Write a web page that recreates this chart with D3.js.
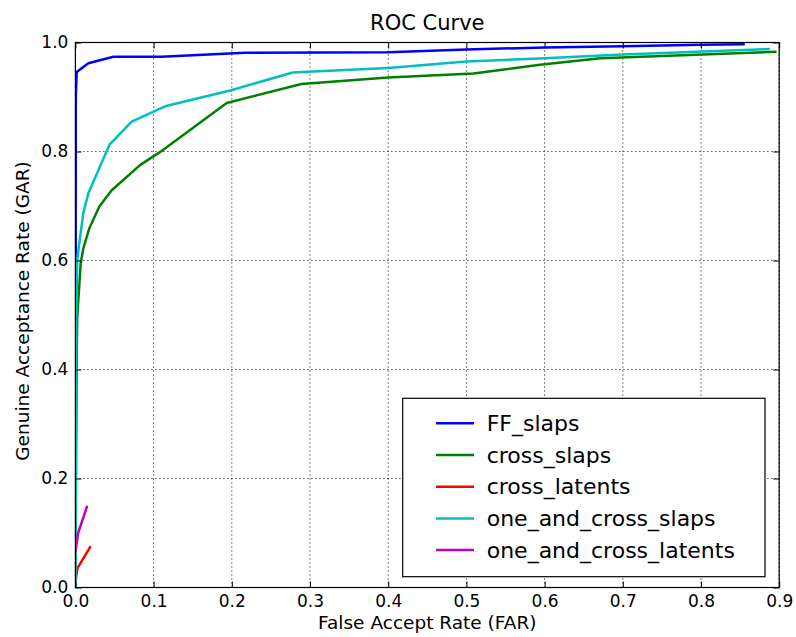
<!DOCTYPE html>
<html>
<head>
<meta charset="utf-8">
<script src="https://cdn.jsdelivr.net/npm/d3@7"></script>
<style>
  body { margin: 0; background: #fff; }
  text { font-family: "DejaVu Sans", sans-serif; fill: #000; }
</style>
</head>
<body>
<svg width="796" height="637"></svg>
<script>
// values
var xTicks = [0, 0.1, 0.2, 0.3, 0.4, 0.5, 0.6, 0.7, 0.8, 0.9];
var yTicks = [0, 0.2, 0.4, 0.6, 0.8, 1.0];

var ffSlapsX = [0, 0.0005, 0.0017, 0.0165, 0.0485, 0.11, 0.217, 0.4, 0.5, 0.6, 0.7, 0.8, 0.856];
var ffSlapsY = [0, 0.90, 0.946, 0.962, 0.974, 0.974, 0.981, 0.982, 0.987, 0.991, 0.993, 0.996, 0.997];

var crossSlapsX = [0, 0.0017, 0.0024, 0.0068, 0.0101, 0.0178, 0.0306, 0.0464, 0.0826, 0.1124, 0.1935, 0.289, 0.4, 0.509, 0.594, 0.6715, 0.8966];
var crossSlapsY = [0, 0.436, 0.497, 0.595, 0.622, 0.659, 0.699, 0.729, 0.775, 0.803, 0.889, 0.924, 0.936, 0.943, 0.959, 0.971, 0.983];

var crossLatentsX = [0, 0.0025, 0.0196];
var crossLatentsY = [0.01, 0.035, 0.076];

var oneCrossSlapsX = [0, 0.001, 0.0024, 0.005, 0.0101, 0.0165, 0.0434, 0.072, 0.1146, 0.198, 0.278, 0.4, 0.5, 0.6, 0.7, 0.888];
var oneCrossSlapsY = [0, 0.5, 0.601, 0.632, 0.687, 0.723, 0.812, 0.855, 0.883, 0.912, 0.945, 0.953, 0.965, 0.971, 0.978, 0.988];

var oneCrossLatentsX = [0, 0.0035, 0.0152];
var oneCrossLatentsY = [0.065, 0.1, 0.15];

var seriesNames = ["FF_slaps", "cross_slaps", "cross_latents", "one_and_cross_slaps", "one_and_cross_latents"];
var seriesColors = ["#0000ff", "#008000", "#ff0000", "#00bfbf", "#bf00bf"];

var series = [
  [ffSlapsX, ffSlapsY],
  [crossSlapsX, crossSlapsY],
  [crossLatentsX, crossLatentsY],
  [oneCrossSlapsX, oneCrossSlapsY],
  [oneCrossLatentsX, oneCrossLatentsY]
].map(function (s, i) {
  return {
    name: seriesNames[i],
    color: seriesColors[i],
    points: s[0].map(function (x, j) { return [x, s[1][j]]; })
  };
});

var margin = {top: 42.5, right: 16.8, bottom: 49.5, left: 75.4};
var width = 796 - margin.left - margin.right;
var height = 637 - margin.top - margin.bottom;

var svg = d3.select("svg");
var g = svg.append("g").attr("transform", "translate(" + margin.left + "," + margin.top + ")");

var x = d3.scaleLinear().domain([0, 0.9]).range([0, width]);
var y = d3.scaleLinear().domain([0, 1]).range([height, 0]);

// dotted grid
g.selectAll(".vgrid").data(xTicks).enter().append("line")
  .attr("x1", d => x(d)).attr("x2", d => x(d))
  .attr("y1", 0).attr("y2", height)
  .attr("stroke", "#000").attr("stroke-width", 1)
  .attr("stroke-dasharray", "1,3");
g.selectAll(".hgrid").data(yTicks).enter().append("line")
  .attr("x1", 0).attr("x2", width)
  .attr("y1", d => y(d)).attr("y2", d => y(d))
  .attr("stroke", "#000").attr("stroke-width", 1)
  .attr("stroke-dasharray", "1,3");

// curves, clipped to the axes box
svg.append("defs").append("clipPath").attr("id", "clip")
  .append("rect").attr("width", width).attr("height", height);

var line = d3.line().x(d => x(d[0])).y(d => y(d[1]));

g.append("g").attr("clip-path", "url(#clip)")
  .selectAll("path").data(series).enter().append("path")
  .attr("d", d => line(d.points))
  .attr("fill", "none")
  .attr("stroke", d => d.color)
  .attr("stroke-width", 2.5)
  .attr("stroke-linejoin", "round");

// axes (ticks pointing inward)
var fmt = d3.format(".1f");
var xAxis = g.append("g").attr("transform", "translate(0," + height + ")")
  .call(d3.axisBottom(x).tickValues(xTicks).tickFormat(fmt).tickSizeInner(-6).tickSizeOuter(0).tickPadding(7.5));
var yAxis = g.append("g")
  .call(d3.axisLeft(y).tickValues(yTicks).tickFormat(fmt).tickSizeInner(-6).tickSizeOuter(0).tickPadding(7));
var xTop = g.append("g")
  .call(d3.axisTop(x).tickValues(xTicks).tickFormat("").tickSizeInner(-6).tickSizeOuter(0));
var yRight = g.append("g").attr("transform", "translate(" + width + ",0)")
  .call(d3.axisRight(y).tickValues(yTicks).tickFormat("").tickSizeInner(-6).tickSizeOuter(0));

[xAxis, yAxis, xTop, yRight].forEach(function (a) {
  a.select(".domain").remove();
  a.selectAll("line").attr("stroke", "#000").attr("stroke-width", 1);
  a.selectAll("text").style("font-size", "17px").style("font-family", "DejaVu Sans, sans-serif").attr("fill", "#000");
});

// frame
g.append("rect").attr("width", width).attr("height", height)
  .attr("fill", "none").attr("stroke", "#000").attr("stroke-width", 1.2);

// title and labels
svg.append("text").attr("x", margin.left + width / 2).attr("y", 30)
  .attr("text-anchor", "middle").style("font-size", "21px").text("ROC Curve");
svg.append("text").attr("x", margin.left + width / 2).attr("y", 629)
  .attr("text-anchor", "middle").style("font-size", "18.5px").text("False Accept Rate (FAR)");
svg.append("text").attr("transform", "translate(29," + (margin.top + height / 2 - 4) + ") rotate(-90)")
  .attr("text-anchor", "middle").style("font-size", "18.5px").text("Genuine Acceptance Rate (GAR)");

// legend
var legend = svg.append("g").attr("transform", "translate(402.7,398.3)");
legend.append("rect").attr("width", 362.3).attr("height", 178.4)
  .attr("fill", "#fff").attr("stroke", "#000").attr("stroke-width", 1.2);
var rows = legend.selectAll(".row").data(series).enter().append("g")
  .attr("transform", (d, i) => "translate(0," + (25 + i * 31.7) + ")");
rows.append("line").attr("x1", 33.3).attr("x2", 71.3)
  .attr("stroke", d => d.color).attr("stroke-width", 2.5);
rows.append("text").attr("x", 84).attr("y", 7.5)
  .style("font-size", "22px").text(d => d.name);
</script>
</body>
</html>
